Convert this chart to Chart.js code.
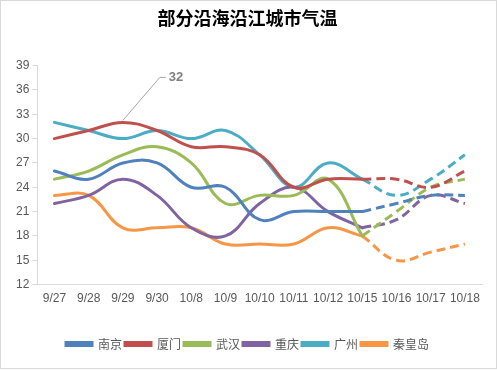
<!DOCTYPE html>
<html>
<head>
<meta charset="utf-8">
<script src="https://cdn.jsdelivr.net/npm/chart.js@4"></script>
<style>
  html, body { margin: 0; padding: 0; background: #fff; }
  #box { width: 495px; height: 367px; border: 1px solid #d9d9d9; position: relative; }
</style>
</head>
<body>
<div id="box"><canvas id="chart"></canvas></div>
<script>
  var days = ["9/27", "9/28", "9/29", "9/30", "10/8", "10/9", "10/10", "10/11", "10/12", "10/15", "10/16", "10/17", "10/18"];
  var cities = ["南京", "厦门", "武汉", "重庆", "广州", "秦皇岛"];
  var colors = ["#4f81bd", "#c0504d", "#9bbb59", "#8064a2", "#4bacc6", "#f79646"];

  // measured through 10/15, forecast after
  var nanjing = [26, 25, 27, 27, 24, 24, 20, 21, 21, 21, 22, 23, 23];
  var xiamen = [30, 31, 32, 31, 29, 29, 28, 24, 25, 25, 25, 24, 26];
  var wuhan = [25, 26, 28, 29, 27, 22, 23, 23, 25, 18, 21, 24, 25];
  var chongqing = [22, 23, 25, 23, 19, 18, 22, 24, 21, 19, 20, 23, 22];
  var guangzhou = [32, 31, 30, 31, 30, 31, 28, 24, 27, 25, 23, 25, 28];
  var qinhuangdao = [23, 23, 19, 19, 19, 17, 17, 17, 19, 18, 15, 16, 17];
  var lastMeasured = 9;

  var series = [nanjing, xiamen, wuhan, chongqing, guangzhou, qinhuangdao];

  function part(values, forecast) {
    return values.map(function (v, i) {
      if (forecast) {
        return i >= lastMeasured ? v : null;
      }
      return i <= lastMeasured ? v : null;
    });
  }

  var datasets = [];
  series.forEach(function (values, i) {
    datasets.push({
      label: cities[i],
      data: part(values, false),
      borderColor: colors[i],
      backgroundColor: colors[i],
      borderWidth: 3,
      pointRadius: 0,
      tension: 0.4,
      borderCapStyle: "round",
      fill: false
    });
  });
  series.forEach(function (values, i) {
    datasets.push({
      label: cities[i] + " 预测",
      data: part(values, true),
      borderColor: colors[i],
      backgroundColor: colors[i],
      borderWidth: 3,
      borderDash: [9, 5],
      pointRadius: 0,
      tension: 0.4,
      fill: false
    });
  });

  var peakLabel = {
    id: "peakLabel",
    afterDatasetsDraw: function (chart) {
      var meta = chart.getDatasetMeta(1);
      var pt = meta.data[2];
      if (!pt) {
        return;
      }
      var ctx = chart.ctx;
      ctx.save();
      ctx.strokeStyle = "#a6a6a6";
      ctx.lineWidth = 1;
      ctx.beginPath();
      ctx.moveTo(pt.x, pt.y - 2);
      ctx.lineTo(pt.x + 37, pt.y - 45);
      ctx.lineTo(pt.x + 43, pt.y - 45);
      ctx.stroke();
      ctx.fillStyle = "#7f7f7f";
      ctx.font = "bold 13px 'Liberation Sans', Arial, sans-serif";
      ctx.textBaseline = "middle";
      ctx.fillText(String(xiamen[2]), pt.x + 46, pt.y - 45);
      ctx.restore();
    }
  };

  Chart.defaults.font.family = '"Microsoft YaHei", "Noto Sans CJK SC", sans-serif';
  Chart.defaults.color = "#595959";

  new Chart(document.getElementById("chart"), {
    type: "line",
    data: { labels: days, datasets: datasets },
    plugins: [peakLabel],
    options: {
      responsive: true,
      maintainAspectRatio: false,
      animation: false,
      layout: { padding: { left: 12, right: 14, top: 0, bottom: 8 } },
      plugins: {
        title: {
          display: true,
          text: "部分沿海沿江城市气温",
          color: "#000",
          font: { size: 18, weight: "bold" },
          padding: { top: 6, bottom: 37 }
        },
        legend: {
          position: "bottom",
          labels: {
            boxWidth: 26,
            boxHeight: 3,
            padding: 3,
            color: "#595959",
            font: { size: 12 },
            filter: function (item) {
              return item.datasetIndex < 6;
            }
          }
        },
        tooltip: { enabled: false }
      },
      scales: {
        x: {
          offset: true,
          grid: { display: true, drawOnChartArea: false, drawTicks: false, color: "#d9d9d9" },
          border: { color: "#d9d9d9" },
          ticks: { padding: 7, font: { size: 12, family: "'Liberation Sans', Arial, sans-serif" }, maxRotation: 0, autoSkip: false },
          afterFit: function (scale) {
            scale.height += 22;
          }
        },
        y: {
          min: 12,
          max: 39,
          grid: { display: true, drawOnChartArea: false, tickLength: 5, color: "#d9d9d9" },
          border: { color: "#d9d9d9" },
          ticks: { stepSize: 3, padding: 3, font: { size: 12, family: "'Liberation Sans', Arial, sans-serif" } }
        }
      }
    }
  });
</script>
</body>
</html>
